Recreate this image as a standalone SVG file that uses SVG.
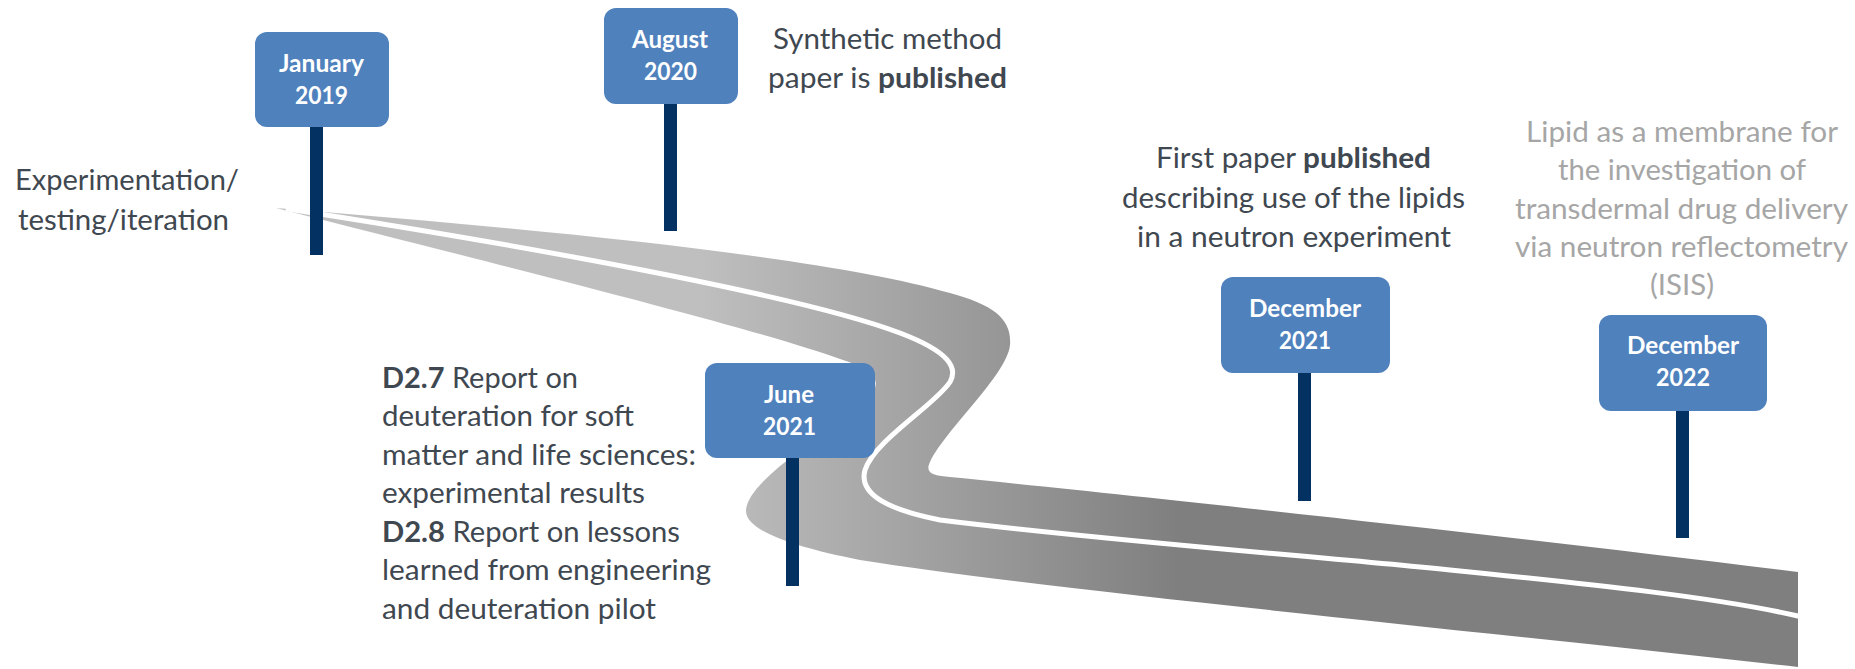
<svg xmlns="http://www.w3.org/2000/svg" width="1855" height="669" viewBox="0 0 1855 669">
  <defs>
    <linearGradient id="roadFill" gradientUnits="userSpaceOnUse" x1="700" y1="0" x2="1180" y2="0">
      <stop offset="0" stop-color="#bfbfbf"/>
      <stop offset="1" stop-color="#7f7f7f"/>
    </linearGradient>
    <style>
      .box { fill: #4f81bd; }
      .post { fill: #033162; }
      .date { font-family: Lato, "Open Sans", sans-serif; font-weight: 700; font-size: 24px; fill: #ffffff; }
      .note { font-family: Lato, "Open Sans", sans-serif; font-size: 28px; fill: #3f4850; }
      .note-light { font-family: Lato, "Open Sans", sans-serif; font-size: 28px; fill: #a6a6a6; }
      .b { font-weight: 700; }
    </style>
  </defs>
  <rect width="1855" height="669" fill="#ffffff"/>

  <!-- winding road -->
  <g id="road">
    <path fill="url(#roadFill)" d="M276,208 C520,228 820,255 950,293 C995,305 1012,320 1010,345 C1007,375 945,430 930,462 C924,474 935,476 950,477 C1150,497 1500,535 1798,572 L1798,667 C1450,628 1050,590 860,560 C790,546 745,530 746,510 C748,485 800,450 850,415 C890,385 880,372 843,360 C760,330 560,280 276,208 Z"/>
    <path fill="none" stroke="#ffffff" stroke-width="5" stroke-linecap="round" d="M288,209 C520,245 800,295 900,333 C950,352 958,368 950,382 C935,405 875,440 865,470 C858,495 890,510 940,520 C1100,540 1300,555 1450,570 C1600,585 1720,598 1798,616"/>
  </g>

  <!-- free notes -->
  <g id="note-start">
    <text class="note" x="15" y="190" textLength="224" lengthAdjust="spacingAndGlyphs">Experimentation/</text>
    <text class="note" x="18" y="230" textLength="211" lengthAdjust="spacingAndGlyphs">testing/iteration</text>
  </g>

  <g id="note-deliverables">
    <text class="note" x="382" y="387.5" textLength="196" lengthAdjust="spacingAndGlyphs"><tspan class="b">D2.7</tspan> Report on</text>
    <text class="note" x="382" y="426" textLength="252" lengthAdjust="spacingAndGlyphs">deuteration for soft</text>
    <text class="note" x="382" y="464.5" textLength="314" lengthAdjust="spacingAndGlyphs">matter and life sciences:</text>
    <text class="note" x="382" y="503" textLength="263" lengthAdjust="spacingAndGlyphs">experimental results</text>
    <text class="note" x="382" y="541.5" textLength="298" lengthAdjust="spacingAndGlyphs"><tspan class="b">D2.8</tspan> Report on lessons</text>
    <text class="note" x="382" y="580" textLength="329" lengthAdjust="spacingAndGlyphs">learned from engineering</text>
    <text class="note" x="382" y="618.5" textLength="274" lengthAdjust="spacingAndGlyphs">and deuteration pilot</text>
  </g>

  <g id="note-synthetic">
    <text class="note" x="773" y="49" textLength="229" lengthAdjust="spacingAndGlyphs">Synthetic method</text>
    <text class="note" x="768" y="88" textLength="239" lengthAdjust="spacingAndGlyphs">paper is <tspan class="b">published</tspan></text>
  </g>

  <g id="note-first-paper">
    <text class="note" x="1156" y="168" textLength="275" lengthAdjust="spacingAndGlyphs">First paper <tspan class="b">published</tspan></text>
    <text class="note" x="1122" y="208" textLength="343" lengthAdjust="spacingAndGlyphs">describing use of the lipids</text>
    <text class="note" x="1137" y="247" textLength="314" lengthAdjust="spacingAndGlyphs">in a neutron experiment</text>
  </g>

  <g id="note-membrane">
    <text class="note-light" x="1526" y="142" textLength="312" lengthAdjust="spacingAndGlyphs">Lipid as a membrane for</text>
    <text class="note-light" x="1558" y="180" textLength="248" lengthAdjust="spacingAndGlyphs">the investigation of</text>
    <text class="note-light" x="1515" y="218.5" textLength="333" lengthAdjust="spacingAndGlyphs">transdermal drug delivery</text>
    <text class="note-light" x="1515" y="257" textLength="333" lengthAdjust="spacingAndGlyphs">via neutron reflectometry</text>
    <text class="note-light" x="1650" y="295" textLength="64" lengthAdjust="spacingAndGlyphs">(ISIS)</text>
  </g>

  <!-- milestone signposts -->
  <g id="milestone-jan-2019">
    <rect class="post" x="310" y="127" width="13" height="128"/>
    <rect class="box" x="255" y="32" width="134" height="95" rx="12"/>
    <text class="date" x="279" y="72" textLength="85" lengthAdjust="spacingAndGlyphs">January</text>
    <text class="date" x="295" y="104" textLength="53" lengthAdjust="spacingAndGlyphs">2019</text>
  </g>

  <g id="milestone-aug-2020">
    <rect class="post" x="664" y="104" width="13" height="127"/>
    <rect class="box" x="604" y="8" width="134" height="96" rx="12"/>
    <text class="date" x="632" y="48" textLength="76" lengthAdjust="spacingAndGlyphs">August</text>
    <text class="date" x="644" y="80" textLength="53" lengthAdjust="spacingAndGlyphs">2020</text>
  </g>

  <g id="milestone-jun-2021">
    <rect class="post" x="786" y="458" width="13" height="128"/>
    <rect class="box" x="705" y="363" width="170" height="95" rx="12"/>
    <text class="date" x="764" y="403" textLength="50" lengthAdjust="spacingAndGlyphs">June</text>
    <text class="date" x="763" y="435" textLength="53" lengthAdjust="spacingAndGlyphs">2021</text>
  </g>

  <g id="milestone-dec-2021">
    <rect class="post" x="1298" y="373" width="13" height="128"/>
    <rect class="box" x="1221" y="277" width="169" height="96" rx="12"/>
    <text class="date" x="1249" y="317" textLength="112" lengthAdjust="spacingAndGlyphs">December</text>
    <text class="date" x="1279" y="349" textLength="52" lengthAdjust="spacingAndGlyphs">2021</text>
  </g>

  <g id="milestone-dec-2022">
    <rect class="post" x="1676" y="411" width="13" height="127"/>
    <rect class="box" x="1599" y="315" width="168" height="96" rx="12"/>
    <text class="date" x="1627" y="354" textLength="112" lengthAdjust="spacingAndGlyphs">December</text>
    <text class="date" x="1656" y="386" textLength="54" lengthAdjust="spacingAndGlyphs">2022</text>
  </g>
</svg>
